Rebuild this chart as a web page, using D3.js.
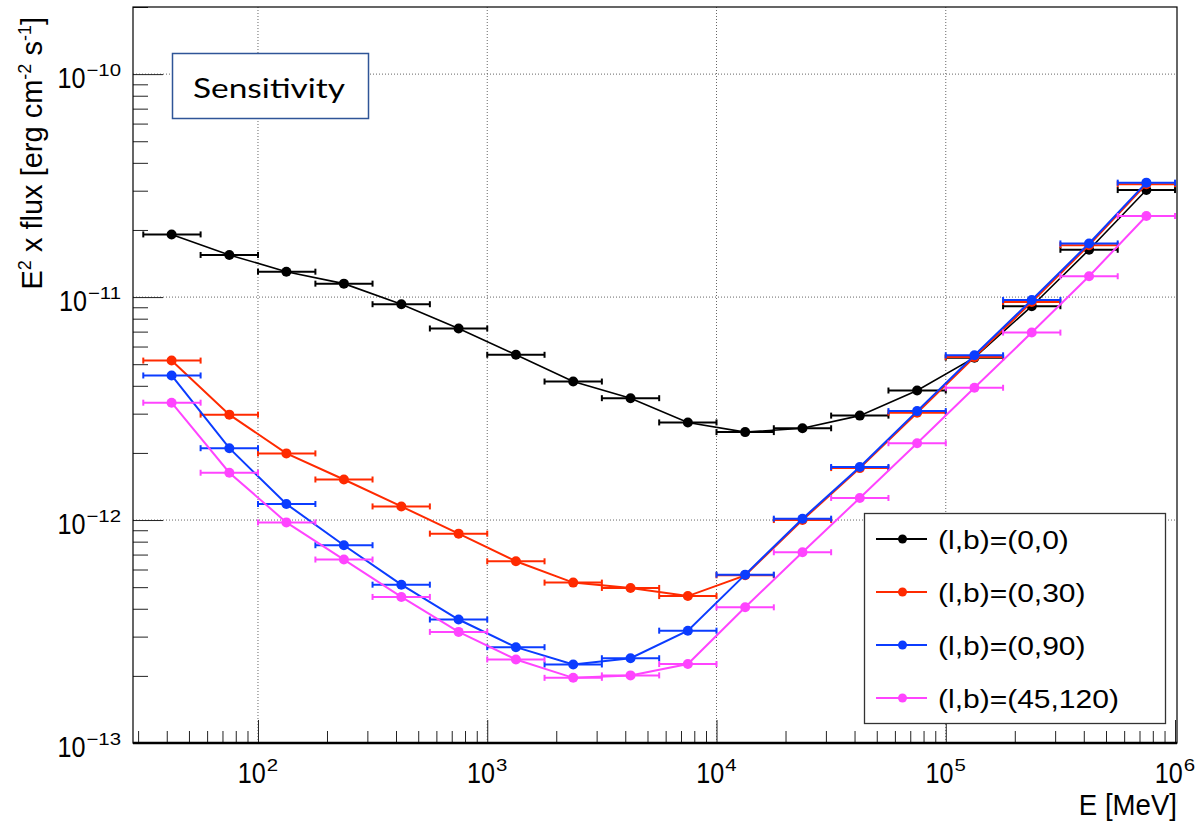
<!DOCTYPE html>
<html>
<head>
<meta charset="utf-8">
<script src="https://cdn.jsdelivr.net/npm/d3@7"></script>
<style>
    body { margin: 0; background: #fff; }
    text { font-family: "Liberation Sans", Arial, Helvetica, sans-serif; fill: #000; }
</style>
</head>
<body>
<svg id="chart" width="1200" height="827"></svg>
<script>

// energy bin centres [MeV] and bin edges (quarter decade bins)
var energy = [42, 75, 133, 237, 422, 750, 1334, 2371, 4217, 7499,
    13335, 23714, 42170, 74989, 133352, 237137, 421697, 749894];
var binEdges = [31.6, 56.2, 100, 178, 316, 562, 1000, 1778, 3162, 5623,
    10000, 17783, 31623, 56234, 100000, 177828, 316228, 562341, 1000000];

// E^2 x flux sensitivity [erg cm-2 s-1]
var sens_0_0 = [1.91e-11, 1.545e-11, 1.30e-11, 1.149e-11, 9.29e-12, 7.23e-12, 5.51e-12, 4.18e-12, 3.52e-12,
    2.74e-12, 2.48e-12, 2.58e-12, 2.94e-12, 3.81e-12, 5.35e-12, 9.10e-12, 1.63e-11, 3.02e-11];
var sens_0_30 = [5.19e-12, 2.97e-12, 1.99e-12, 1.52e-12, 1.151e-12, 8.69e-13, 6.53e-13, 5.24e-13, 4.96e-13,
    4.56e-13, 5.65e-13, 1.0e-12, 1.71e-12, 3.03e-12, 5.38e-12, 9.5e-12, 1.71e-11, 3.21e-11];
var sens_0_90 = [4.45e-12, 2.10e-12, 1.18e-12, 7.71e-13, 5.13e-13, 3.58e-13, 2.69e-13, 2.25e-13, 2.40e-13,
    3.19e-13, 5.69e-13, 1.014e-12, 1.73e-12, 3.08e-12, 5.48e-12, 9.71e-12, 1.74e-11, 3.26e-11];
var sens_45_120 = [3.36e-12, 1.63e-12, 9.76e-13, 6.65e-13, 4.52e-13, 3.15e-13, 2.37e-13, 1.96e-13, 2.01e-13,
    2.26e-13, 4.06e-13, 7.17e-13, 1.256e-12, 2.21e-12, 3.92e-12, 6.93e-12, 1.24e-11, 2.31e-11];

var seriesNames = ["(l,b)=(0,0)", "(l,b)=(0,30)", "(l,b)=(0,90)", "(l,b)=(45,120)"];
var seriesValues = [sens_0_0, sens_0_30, sens_0_90, sens_45_120];

var xMajorExp = [2, 3, 4, 5, 6];
var yMajorExp = [-13, -12, -11, -10];

var colors = ["#000000", "#ff2a00", "#0b3cff", "#ff44ff"];
var lineWidths = [1.6, 2, 2, 2];

var svg = d3.select("#chart");

var plot = {left: 133, right: 1177, top: 7, bottom: 743};

var x = d3.scaleLog()
    .domain([28.5, 1.02e6])
    .range([plot.left, plot.right]);

var y = d3.scaleLog()
    .domain([1e-13, 2e-10])
    .range([plot.bottom, plot.top]);

function minorTicks(expFrom, expTo, domain) {
    var list = [];
    for (var e = expFrom; e <= expTo; e++) {
        for (var m = 2; m <= 9; m++) {
            var v = m * Math.pow(10, e);
            if (v >= domain[0] * 0.999 && v <= domain[1] * 1.001)
                list.push(v);
        }
    }
    return list;
}

var xMajor = xMajorExp.map(function (e) { return Math.pow(10, e); });
var yMajor = yMajorExp.map(function (e) { return Math.pow(10, e); });
var xMinor = minorTicks(1, 5, x.domain());
var yMinor = minorTicks(-13, -10, y.domain());

// grid (dotted)
svg.append("g")
    .selectAll("line")
    .data(xMajor.filter(function (d) { return d < 1e6; }))
    .enter()
    .append("line")
    .attr("x1", function (d) { return x(d); })
    .attr("x2", function (d) { return x(d); })
    .attr("y1", plot.top)
    .attr("y2", plot.bottom)
    .attr("stroke", "#666")
    .attr("stroke-dasharray", "1,2");

svg.append("g")
    .selectAll("line")
    .data(yMajor.filter(function (d) { return d > 1e-13; }))
    .enter()
    .append("line")
    .attr("y1", function (d) { return y(d); })
    .attr("y2", function (d) { return y(d); })
    .attr("x1", plot.left)
    .attr("x2", plot.right)
    .attr("stroke", "#666")
    .attr("stroke-dasharray", "1,2");

// axis ticks pointing into the frame
function tickStyle(g) {
    g.select(".domain").remove();
    g.selectAll("line").attr("stroke", "#222");
}

svg.append("g")
    .attr("transform", "translate(0," + plot.bottom + ")")
    .call(d3.axisBottom(x).tickValues(xMinor).tickSize(-12).tickSizeOuter(0).tickFormat(""))
    .call(tickStyle);

svg.append("g")
    .attr("transform", "translate(0," + plot.bottom + ")")
    .call(d3.axisBottom(x).tickValues(xMajor).tickSize(-23).tickSizeOuter(0).tickFormat(""))
    .call(tickStyle);

svg.append("g")
    .attr("transform", "translate(" + plot.left + ",0)")
    .call(d3.axisLeft(y).tickValues(yMinor).tickSize(-15).tickSizeOuter(0).tickFormat(""))
    .call(tickStyle);

svg.append("g")
    .attr("transform", "translate(" + plot.left + ",0)")
    .call(d3.axisLeft(y).tickValues(yMajor).tickSize(-30).tickSizeOuter(0).tickFormat(""))
    .call(tickStyle);

// frame
svg.append("rect")
    .attr("x", plot.left)
    .attr("y", plot.top)
    .attr("width", plot.right - plot.left)
    .attr("height", plot.bottom - plot.top)
    .attr("fill", "none")
    .attr("stroke", "#000")
    .attr("stroke-width", 1.2);

svg.append("line")
    .attr("x1", plot.left)
    .attr("x2", plot.right)
    .attr("y1", plot.bottom)
    .attr("y2", plot.bottom)
    .attr("stroke", "#000")
    .attr("stroke-width", 2.5);

// power-of-ten label: "10" slightly narrow, exponent small
function powerLabel(px, py, exp, anchor) {
    var g = svg.append("g");
    var base = g.append("text")
        .attr("font-size", 30)
        .attr("transform", "scale(0.84,1)")
        .text("10");
    var bw = base.node().getComputedTextLength() * 0.84;
    var sup = g.append("text")
        .attr("font-size", 17)
        .attr("transform", "translate(" + (bw + 1) + ",-12) scale(1.2,1)")
        .text(exp < 0 ? "\u2212" + (-exp) : "" + exp);
    var total = bw + 1 + sup.node().getComputedTextLength() * 1.2;
    var left = anchor == "middle" ? px - total / 2 : px - total;
    g.attr("transform", "translate(" + left + "," + py + ")");
}

xMajorExp.forEach(function (e) {
    powerLabel(x(Math.pow(10, e)), 783, e, "middle");
});

yMajorExp.forEach(function (e) {
    powerLabel(121, y(Math.pow(10, e)) + 14, e, "end");
});

// axis titles
svg.append("text")
    .attr("transform", "translate(" + plot.right + ",815) scale(0.92,1)")
    .attr("text-anchor", "end")
    .attr("font-size", 30)
    .text("E [MeV]");

var yTitle = svg.append("text")
    .attr("transform", "translate(42,17) rotate(-90)")
    .attr("text-anchor", "end")
    .attr("font-size", 29);
yTitle.append("tspan").text("E");
yTitle.append("tspan").attr("dy", -11).attr("font-size", 18).text("2");
yTitle.append("tspan").attr("dy", 11).text(" x flux [erg cm");
yTitle.append("tspan").attr("dy", -11).attr("font-size", 18).text("-2");
yTitle.append("tspan").attr("dy", 11).text(" s");
yTitle.append("tspan").attr("dy", -11).attr("font-size", 18).text("-1");
yTitle.append("tspan").attr("dy", 11).text("]");

// data series
var line = d3.line()
    .x(function (d) { return x(d.e); })
    .y(function (d) { return y(d.v); });

seriesValues.forEach(function (vals, s) {

    var points = energy.map(function (e, i) {
        return {e: e, lo: binEdges[i], hi: binEdges[i + 1], v: vals[i]};
    });

    var g = svg.append("g");

    g.append("path")
        .datum(points)
        .attr("d", line)
        .attr("fill", "none")
        .attr("stroke", colors[s])
        .attr("stroke-width", lineWidths[s]);

    var bars = g.selectAll(".bar")
        .data(points)
        .enter()
        .append("g")
        .attr("class", "bar")
        .attr("stroke", colors[s])
        .attr("stroke-width", 2);

    bars.append("line")
        .attr("x1", function (d) { return x(d.lo); })
        .attr("x2", function (d) { return x(d.hi); })
        .attr("y1", function (d) { return y(d.v); })
        .attr("y2", function (d) { return y(d.v); });

    bars.append("line")
        .attr("x1", function (d) { return x(d.lo); })
        .attr("x2", function (d) { return x(d.lo); })
        .attr("y1", function (d) { return y(d.v) - 3; })
        .attr("y2", function (d) { return y(d.v) + 3; });

    bars.append("line")
        .attr("x1", function (d) { return x(d.hi); })
        .attr("x2", function (d) { return x(d.hi); })
        .attr("y1", function (d) { return y(d.v) - 3; })
        .attr("y2", function (d) { return y(d.v) + 3; });

    g.selectAll("circle")
        .data(points)
        .enter()
        .append("circle")
        .attr("cx", function (d) { return x(d.e); })
        .attr("cy", function (d) { return y(d.v); })
        .attr("r", 5)
        .attr("fill", colors[s]);
});

// "Sensitivity" box
svg.append("rect")
    .attr("x", 172.5)
    .attr("y", 53.5)
    .attr("width", 196)
    .attr("height", 65)
    .attr("fill", "#fff")
    .attr("stroke", "#2f5597")
    .attr("stroke-width", 1.5);

svg.append("text")
    .attr("x", 193)
    .attr("y", 98)
    .attr("font-size", 27)
    .style("font-family", "Lato, 'Open Sans', sans-serif")
    .attr("textLength", 152)
    .attr("lengthAdjust", "spacingAndGlyphs")
    .text("Sensitivity");

// legend
var legend = svg.append("g");

legend.append("rect")
    .attr("x", 864.5)
    .attr("y", 513.5)
    .attr("width", 301)
    .attr("height", 210)
    .attr("fill", "#fff")
    .attr("stroke", "#333")
    .attr("stroke-width", 1.3);

var items = legend.selectAll(".item")
    .data(seriesNames)
    .enter()
    .append("g")
    .attr("class", "item")
    .attr("transform", function (d, i) { return "translate(0," + (539 + i * 53) + ")"; });

items.append("line")
    .attr("x1", 876)
    .attr("x2", 927)
    .attr("stroke", function (d, i) { return colors[i]; })
    .attr("stroke-width", 2);

items.append("circle")
    .attr("cx", 902.5)
    .attr("r", 4.5)
    .attr("fill", function (d, i) { return colors[i]; });

items.append("text")
    .attr("transform", "translate(938,10) scale(1.2,1)")
    .attr("font-size", 25)
    .text(function (d) { return d; });

</script>
</body>
</html>
